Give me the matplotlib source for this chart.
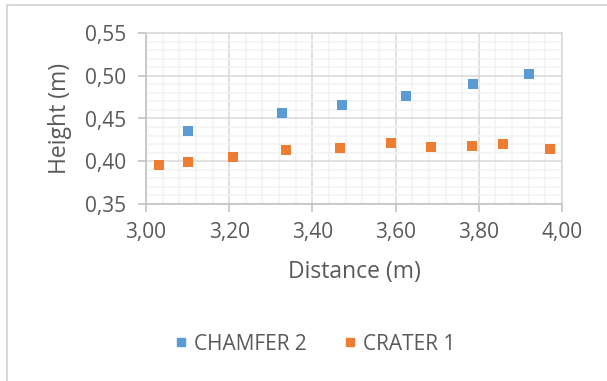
import matplotlib
matplotlib.use("Agg")
import matplotlib.pyplot as plt
from matplotlib.ticker import MultipleLocator, FuncFormatter
from matplotlib.lines import Line2D

# Measured profiles
chamfer_x = [3.100, 3.326, 3.470, 3.625, 3.786, 3.921]
chamfer_y = [0.435, 0.456, 0.466, 0.476, 0.491, 0.502]

crater_x = [3.032, 3.102, 3.210, 3.337, 3.467, 3.590, 3.684, 3.784, 3.859, 3.972]
crater_y = [0.396, 0.399, 0.405, 0.413, 0.415, 0.421, 0.416, 0.418, 0.420, 0.414]

series_names = ["CHAMFER 2", "CRATER 1"]
x_label = "Distance (m)"
y_label = "Height (m)"

BLUE = "#5B9BD5"
ORANGE = "#ED7D31"
TEXT = "#595959"

plt.rcParams["font.family"] = ["Open Sans", "DejaVu Sans"]

fig = plt.figure(figsize=(6.07, 3.81), dpi=100)
ax = fig.add_axes([146 / 607, 1 - 203.7 / 381, 416 / 607, 170.4 / 381])

ax.scatter(chamfer_x, chamfer_y, marker="s", s=46, color=BLUE, linewidths=0, zorder=3)
ax.scatter(crater_x, crater_y, marker="s", s=46, color=ORANGE, linewidths=0, zorder=3)

ax.set_xlim(3.0, 4.0)
ax.set_ylim(0.35, 0.55)
ax.xaxis.set_major_locator(MultipleLocator(0.2))
ax.xaxis.set_minor_locator(MultipleLocator(0.04))
ax.yaxis.set_major_locator(MultipleLocator(0.05))
ax.yaxis.set_minor_locator(MultipleLocator(0.01))

comma = lambda v, _: f"{v:.2f}".replace(".", ",")
ax.xaxis.set_major_formatter(FuncFormatter(comma))
ax.yaxis.set_major_formatter(FuncFormatter(comma))

ax.grid(which="major", color="#D9D9D9", linewidth=1.1, zorder=1)
ax.grid(which="minor", color="#F2F2F2", linewidth=1.1, zorder=0)
ax.set_axisbelow(True)

for side in ("top", "right"):
    ax.spines[side].set_color("#D9D9D9")
    ax.spines[side].set_linewidth(1.1)
for side in ("bottom", "left"):
    ax.spines[side].set_color("#BFBFBF")
    ax.spines[side].set_linewidth(1.1)

ax.tick_params(which="major", length=6, width=1.1, color="#BFBFBF",
               labelsize=15, labelcolor=TEXT)
ax.tick_params(axis="x", which="major", pad=7)
ax.tick_params(axis="y", which="major", pad=8)
ax.tick_params(which="minor", length=0)

ax.set_xlabel(x_label, fontsize=16.5, color=TEXT)
ax.set_ylabel(y_label, fontsize=16.5, color=TEXT)
ax.xaxis.set_label_coords(0.5, -0.40)
ax.yaxis.set_label_coords(-0.207, 0.5)
ax.xaxis.label.set_verticalalignment("center")
ax.yaxis.label.set_verticalalignment("center")

handles = [
    Line2D([], [], linestyle="none", marker="s", markersize=5.5, color=BLUE),
    Line2D([], [], linestyle="none", marker="s", markersize=5.5, color=ORANGE),
]
fig.legend(handles, series_names, loc="center", bbox_to_anchor=(0.519, 0.097),
           ncol=2, frameon=False, fontsize=15, labelcolor=TEXT,
           handlelength=0.6, handletextpad=0.3, columnspacing=1.8)

# Chart area outline (top and left edges)
fig.add_artist(Line2D([7 / 607, 1], [1 - 5 / 381, 1 - 5 / 381],
                      transform=fig.transFigure, color="#D9D9D9", linewidth=1.5))
fig.add_artist(Line2D([7 / 607, 7 / 607], [0, 1 - 5 / 381],
                      transform=fig.transFigure, color="#D9D9D9", linewidth=1.5))

fig.savefig("out.png", dpi=100)
